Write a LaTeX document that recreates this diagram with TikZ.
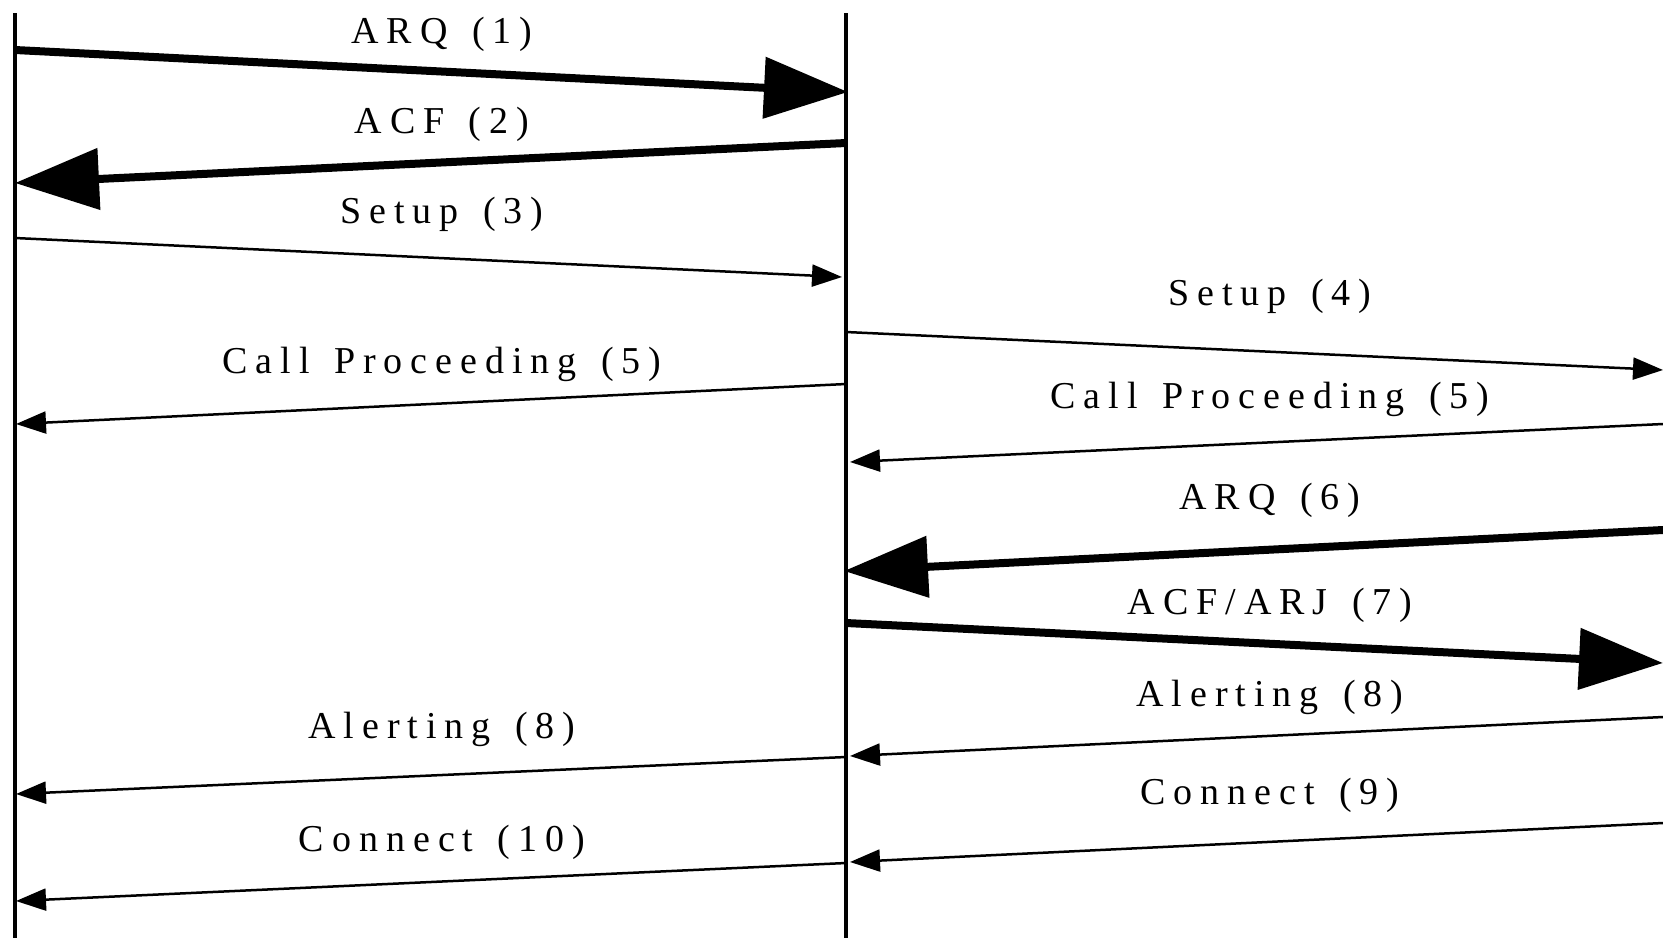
\documentclass[tikz,border=0pt]{standalone}
\usepackage{fontspec}
\setmainfont{Liberation Serif}[LetterSpace=21, WordSpace=1.4]
\usetikzlibrary{arrows.meta}
\tikzset{
  lifeline/.style={line width=3.5pt},
  thinmsg/.style={line width=2.5pt, -{Triangle[length=30pt,width=22pt]}},
  thickmsg/.style={line width=8pt, -{Triangle[length=84pt,width=60pt]}},
  lbl/.style={anchor=base, inner sep=0pt, font=\fontsize{38}{40}\selectfont}
}
\begin{document}
\begin{tikzpicture}[x=1pt,y=-1pt]
\useasboundingbox (0,0) rectangle (1663,938);
% lifelines
\coordinate (Ltop) at (15,13);
\coordinate (Lbot) at (15,938);
\coordinate (Mtop) at (846,13);
\coordinate (Mbot) at (846,938);
\draw[lifeline] (Ltop) -- (Lbot);
\draw[lifeline] (Mtop) -- (Mbot);
% endpoints
\coordinate (a1s) at (15,50);   \coordinate (a1e) at (848,92);
\coordinate (a2s) at (846,143); \coordinate (a2e) at (15,183);
\coordinate (a3s) at (15,238);  \coordinate (a3e) at (842,277);
\coordinate (a4s) at (846,332); \coordinate (a4e) at (1663,370);
\coordinate (a5s) at (846,384); \coordinate (a5e) at (16,424);
\coordinate (a6s) at (1663,424);\coordinate (a6e) at (850,462);
\coordinate (a7s) at (1663,530);\coordinate (a7e) at (844,571);
\coordinate (a8s) at (846,623); \coordinate (a8e) at (1663,663);
\coordinate (a9s) at (1663,717);\coordinate (a9e) at (850,756);
\coordinate (a10s) at (846,757);\coordinate (a10e) at (16,794);
\coordinate (a11s) at (1663,823);\coordinate (a11e) at (850,862);
\coordinate (a12s) at (846,863);\coordinate (a12e) at (16,901);
% messages
\draw[thickmsg] (a1s) -- (a1e);
\draw[thickmsg] (a2s) -- (a2e);
\draw[thinmsg] (a3s) -- (a3e);
\draw[thinmsg] (a4s) -- (a4e);
\draw[thinmsg] (a5s) -- (a5e);
\draw[thinmsg] (a6s) -- (a6e);
\draw[thickmsg] (a7s) -- (a7e);
\draw[thickmsg] (a8s) -- (a8e);
\draw[thinmsg] (a9s) -- (a9e);
\draw[thinmsg] (a10s) -- (a10e);
\draw[thinmsg] (a11s) -- (a11e);
\draw[thinmsg] (a12s) -- (a12e);
% labels
\node[lbl] (l1) at (442,43) {ARQ (1)};
\node[lbl] (l2) at (442,133) {ACF (2)};
\node[lbl] (l3) at (442,223) {Setup (3)};
\node[lbl] (l4) at (1270,305) {Setup (4)};
\node[lbl] (l5) at (442,373) {Call Proceeding (5)};
\node[lbl] (l6) at (1270,408) {Call Proceeding (5)};
\node[lbl] (l7) at (1270,509) {ARQ (6)};
\node[lbl] (l8) at (1270,614) {ACF/ARJ (7)};
\node[lbl] (l9) at (1270,706) {Alerting (8)};
\node[lbl] (l10) at (442,738) {Alerting (8)};
\node[lbl] (l11) at (1270,804) {Connect (9)};
\node[lbl] (l12) at (442,851) {Connect (10)};
\end{tikzpicture}
\end{document}
